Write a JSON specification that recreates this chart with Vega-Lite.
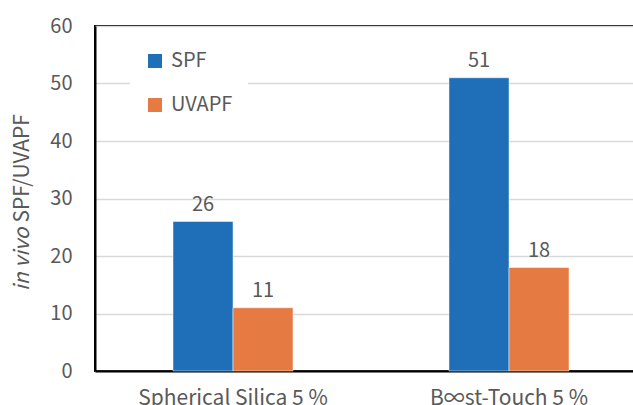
{
  "$schema": "https://vega.github.io/schema/vega-lite/v6.json",
  "width": 552,
  "height": 345,
  "autosize": {"type": "none"},
  "padding": {"left": 95, "top": 26, "right": 0, "bottom": 34},
  "background": "white",
  "config": {
    "font": "Noto Sans CJK JP",
    "view": {"stroke": "black", "strokeWidth": 2},
    "axis": {"labelColor": "#595959", "titleColor": "#595959", "labelFont": "Noto Sans CJK JP", "titleFont": "Noto Sans CJK JP"},
    "legend": {"labelColor": "#595959", "labelFont": "Noto Sans CJK JP"}
  },
  "data": {
    "values": [
      {"sample": "Spherical Silica 5 %", "metric": "SPF", "value": 26},
      {"sample": "Spherical Silica 5 %", "metric": "UVAPF", "value": 11},
      {"sample": "B∞st-Touch 5 %", "metric": "SPF", "value": 51},
      {"sample": "B∞st-Touch 5 %", "metric": "UVAPF", "value": 18}
    ]
  },
  "encoding": {
    "x": {
      "field": "sample",
      "type": "nominal",
      "sort": null,
      "scale": {"paddingInner": 0.5652, "paddingOuter": 0.2826},
      "axis": {
        "title": null,
        "labelAngle": 0,
        "labelFontSize": 21,
        "labelPadding": 16,
        "labelLimit": 0,
        "ticks": false,
        "domainColor": "black",
        "domainWidth": 2,
        "grid": false
      }
    },
    "xOffset": {
      "field": "metric",
      "type": "nominal",
      "sort": ["SPF", "UVAPF"],
      "scale": {"paddingInner": 0, "paddingOuter": 0}
    }
  },
  "layer": [
    {
      "mark": {"type": "bar", "stroke": "#ffffff", "strokeWidth": 0.8, "strokeOpacity": 0.6},
      "encoding": {
        "y": {
          "field": "value",
          "type": "quantitative",
          "scale": {"domain": [0, 60]},
          "axis": {
            "orient": "left",
            "values": [0, 10, 20, 30, 40, 50, 60],
            "labelFontSize": 20,
            "labelPadding": 23,
            "ticks": false,
            "domainColor": "black",
            "domainWidth": 2,
            "gridColor": "#d9d9d9",
            "gridWidth": 1.5,
            "title": "SPF/UVAPF",
            "titleFontSize": 21,
            "titleFontWeight": "normal",
            "titleAngle": -90,
            "titleAlign": "left",
            "titleBaseline": "middle",
            "titleX": -73,
            "titleY": 196
          }
        },
        "color": {
          "field": "metric",
          "type": "nominal",
          "sort": ["SPF", "UVAPF"],
          "scale": {"domain": ["SPF", "UVAPF"], "range": ["#1f6fb8", "#e57a43"]},
          "legend": {
            "title": null,
            "orient": "none",
            "legendX": 35,
            "legendY": 10,
            "fillColor": "white",
            "padding": 15,
            "symbolType": "square",
            "symbolSize": 196,
            "symbolStrokeWidth": 0,
            "labelFontSize": 20,
            "labelOffset": 6,
            "rowPadding": 24
          }
        }
      }
    },
    {
      "mark": {"type": "text", "baseline": "alphabetic", "dy": -11, "fontSize": 20, "color": "#595959", "font": "Noto Sans CJK JP"},
      "encoding": {
        "y": {
          "field": "value",
          "type": "quantitative",
          "axis": {
            "orient": "left",
            "labels": false,
            "ticks": false,
            "domain": false,
            "grid": false,
            "title": "in vivo",
            "titleFontSize": 21,
            "titleFontWeight": "normal",
            "titleFontStyle": "italic",
            "titleAngle": -90,
            "titleAlign": "right",
            "titleBaseline": "middle",
            "titleX": -73,
            "titleY": 201
          }
        },
        "text": {"field": "value", "type": "quantitative"}
      }
    }
  ],
  "resolve": {"axis": {"y": "independent"}}
}
